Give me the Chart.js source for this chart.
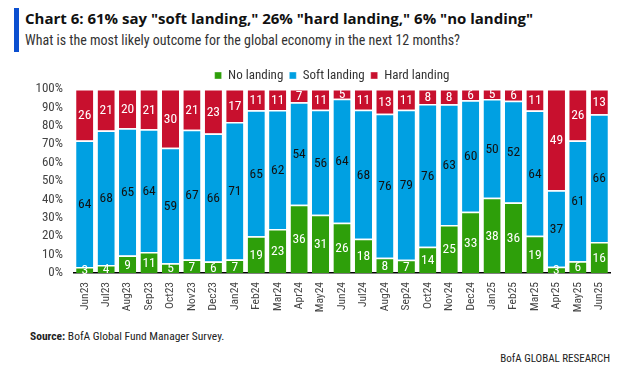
<!DOCTYPE html>
<html>
<head>
<meta charset="utf-8">
<script src="https://cdn.jsdelivr.net/npm/chart.js@4.4.1/dist/chart.umd.min.js"></script>
<style>
  html, body { margin:0; padding:0; background:#fff; }
  body { width:642px; height:372px; position:relative; overflow:hidden; font-family:"Roboto Condensed","Liberation Sans Narrow","Liberation Sans",sans-serif; }
  #bar { position:absolute; left:14px; top:8px; width:5px; height:44px; background:#0b4fd0; }
  #title { position:absolute; left:25px; top:8px; font-family:"Open Sans",sans-serif; font-size:15px; font-weight:bold; color:#111; white-space:nowrap; }
  #sub { position:absolute; left:25px; top:32px; font-size:14px; color:#333; white-space:nowrap; }
  #wrap { position:absolute; left:0; top:63px; width:642px; height:265px; }
  #src { position:absolute; left:30px; top:329px; font-size:11.5px; color:#222; white-space:nowrap; }
  #brand { position:absolute; right:32px; top:352px; font-size:11px; color:#222; white-space:nowrap; }
</style>
</head>
<body>
<div id="bar"></div>
<div id="title">Chart 6: 61% say "soft landing," 26% "hard landing," 6% "no landing"</div>
<div id="sub">What is the most likely outcome for the global economy in the next 12 months?</div>
<div id="wrap"><canvas id="c"></canvas></div>
<div id="src"><b>Source:</b> BofA Global Fund Manager Survey.</div>
<div id="brand">BofA GLOBAL RESEARCH</div>
<script>
const months = ["Jun23","Jul23","Aug23","Sep23","Oct23","Nov23","Dec23","Jan24","Feb24","Mar24","Apr24","May24","Jun24","Jul24","Aug24","Sep24","Oct24","Nov24","Dec24","Jan25","Feb25","Mar25","Apr25","May25","Jun25"];
const noLanding   = [3,4,9,11,5,7,6,7,19,23,36,31,26,18,8,7,14,25,33,38,36,19,3,6,16];
const softLanding = [64,68,65,64,59,67,66,71,65,62,54,56,64,68,76,79,76,63,60,50,52,64,37,61,66];
const hardLanding = [26,21,20,21,30,21,23,17,11,11,7,11,5,11,13,11,8,8,6,5,6,11,49,26,13];
const yTicks = [0,10,20,30,40,50,60,70,80,90,100];

const FONT = '"Roboto Condensed","Liberation Sans Narrow","Liberation Sans",sans-serif';
const totals = months.map((m,i)=>noLanding[i]+softLanding[i]+hardLanding[i]);
const share = arr => arr.map((v,i)=> v/totals[i]*100);

const labelPlugin = {
  id:'segLabels',
  afterLayout(chart){
    if (chart.legend){ chart.legend.left += 27; chart.legend.right += 27; }
  },
  afterDatasetsDraw(chart){
    const ctx = chart.ctx;
    ctx.save();
    ctx.font = '13.5px ' + FONT;
    ctx.textAlign = 'center';
    ctx.textBaseline = 'middle';
    chart.data.datasets.forEach((ds, di)=>{
      const meta = chart.getDatasetMeta(di);
      meta.data.forEach((el, i)=>{
        const raw = ds.raw[i];
        const yMid = (el.y + el.base)/2;
        ctx.fillStyle = ds.labelColor;
        ctx.fillText(String(raw), el.x, yMid + 1);
      });
    });
    ctx.restore();
  }
};

const ds = (label, raw, color, labelColor) => ({
  label, raw, labelColor,
  data: share(raw),
  backgroundColor: color,
  borderColor: '#ffffff',
  borderWidth: {top:1.5, left:0, right:0, bottom:0},
  borderSkipped: false,
  barPercentage: 0.8,
  categoryPercentage: 1.0
});

new Chart(document.getElementById('c'), {
  type:'bar',
  data:{
    labels: months,
    datasets:[
      ds('No landing', noLanding, '#2e9f0a', '#ffffff'),
      ds('Soft landing', softLanding, '#00a0e2', '#111111'),
      ds('Hard landing', hardLanding, '#c8102e', '#ffffff')
    ]
  },
  options:{
    responsive:true,
    maintainAspectRatio:false,
    animation:false,
    layout:{ padding:{ left:0, right:32, top:0, bottom:0 } },
    plugins:{
      legend:{
        position:'top',
        maxHeight:26,
        labels:{ boxWidth:7, boxHeight:7, padding:6, color:'#333', font:{ family:FONT, size:13 } }
      },
      tooltip:{ enabled:false }
    },
    scales:{
      x:{
        stacked:true,
        afterFit(s){ s.height = 55; },
        grid:{ display:false, drawTicks:false },
        border:{ display:true, color:'#000', width:1.5 },
        ticks:{ minRotation:90, maxRotation:90, padding:9, color:'#444', autoSkip:false, font:{ family:FONT, size:11.5 } }
      },
      y:{
        stacked:true,
        min:0, max:100,
        afterFit(s){ s.width = 74; },
        afterBuildTicks(scale){ scale.ticks = yTicks.map(v=>({value:v})); },
        grid:{ display:false, drawTicks:false },
        border:{ display:false },
        ticks:{ color:'#444', padding:11, autoSkip:false, font:{ family:FONT, size:13 }, callback:v=>v+'%' }
      }
    }
  },
  plugins:[labelPlugin]
});
</script>
</body>
</html>
